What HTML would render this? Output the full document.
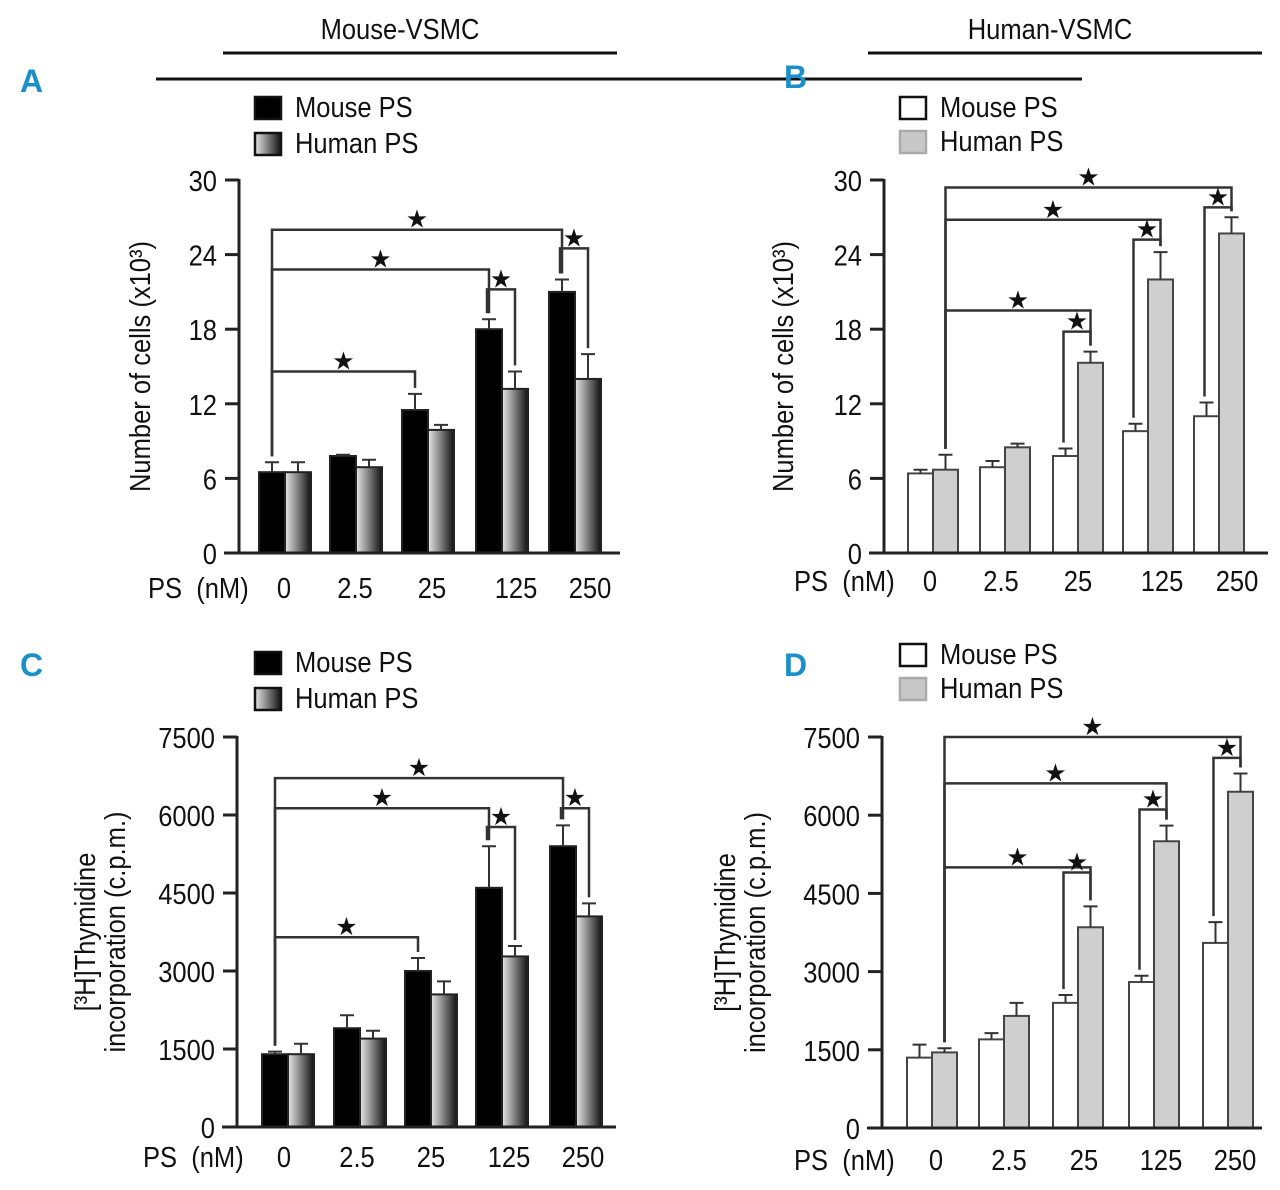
<!DOCTYPE html>
<html><head><meta charset="utf-8"><style>
html,body{margin:0;padding:0;background:#fff;}
svg text{font-family:"Liberation Sans Narrow","Liberation Sans",sans-serif;fill:#111;white-space:pre;}
.pl{font-family:"Liberation Sans",sans-serif;font-weight:bold;fill:#1a8fc9;}
</style></head><body>
<svg id="fig" width="1280" height="1185" viewBox="0 0 1280 1185" xmlns="http://www.w3.org/2000/svg">
<defs>
<linearGradient id="gr" x1="0" x2="1" y1="0" y2="0"><stop offset="0" stop-color="#e6e6e6"/><stop offset="0.45" stop-color="#888"/><stop offset="1" stop-color="#111"/></linearGradient>
</defs>
<text x="400" y="39" font-size="29" text-anchor="middle">Mouse-VSMC</text>
<line x1="223" y1="53" x2="617" y2="53" stroke="#111" stroke-width="3"/>
<line x1="156" y1="79" x2="1082" y2="79" stroke="#111" stroke-width="3"/>
<text x="1050" y="39" font-size="29" text-anchor="middle">Human-VSMC</text>
<line x1="868" y1="53" x2="1262" y2="53" stroke="#111" stroke-width="3"/>
<g id="root"></g>
</svg>
<script>
// ---- data ----
const categories = ["0","2.5","25","125","250"];
const aMouse = [6.5,7.8,11.5,18,21];
const aMouseErr = [0.8,0.1,1.3,0.8,1.0];
const aHuman = [6.5,6.9,9.9,13.2,14];
const aHumanErr = [0.8,0.6,0.4,1.4,2.0];
const bMouse = [6.4,6.9,7.8,9.8,11];
const bMouseErr = [0.3,0.5,0.6,0.6,1.1];
const bHuman = [6.7,8.5,15.3,22,25.7];
const bHumanErr = [1.2,0.3,0.9,2.2,1.3];
const cMouse = [1400,1900,3000,4600,5400];
const cMouseErr = [50,250,250,800,400];
const cHuman = [1400,1700,2550,3280,4050];
const cHumanErr = [200,150,250,200,250];
const dMouse = [1350,1700,2400,2800,3550];
const dMouseErr = [250,120,150,120,400];
const dHuman = [1450,2150,3850,5500,6450];
const dHumanErr = [80,250,400,300,350];
const countTicks = [0,6,12,18,24,30];
const thymTicks = [0,1500,3000,4500,6000,7500];
// brackets: [fromGroup, fromSeries, toGroup, toSeries, level]
const aBrackets = [[0,0,2,0,14.6],[0,0,3,0,22.8],[0,0,4,0,26.0],[3,0,3,1,21.2],[4,0,4,1,24.5]];
const bBrackets = [[0,1,2,1,19.5],[0,1,3,1,26.8],[0,1,4,1,29.4],[2,0,2,1,17.8],[3,0,3,1,25.2],[4,0,4,1,27.8]];
const cBrackets = [[0,0,2,0,3650],[0,0,3,0,6130],[0,0,4,0,6710],[3,0,3,1,5770],[4,0,4,1,6130]];
const dBrackets = [[0,1,2,1,5000],[0,1,3,1,6610],[0,1,4,1,7500],[2,0,2,1,4900],[3,0,3,1,6110],[4,0,4,1,7100]];

const NS="http://www.w3.org/2000/svg";
const root=document.getElementById('root');
function mk(tag,at,parent){const e=document.createElementNS(NS,tag);for(const k in at)e.setAttribute(k,at[k]);(parent||root).appendChild(e);return e;}

const panels=[
 {id:'a',letter:'A',lx:20,ly:92,ax:239,top:180,bot:553,xEnd:620,max:30,ticks:countTicks,m:aMouse,me:aMouseErr,h:aHuman,he:aHumanErr,br:aBrackets,
  starts:[259,330,402,476,549],bw:26,style:'dark',leg:[254,96],labX:[284,355,432,516,590],labY:598,psX:148,yt:['Number of cells (x10³)'],ytX:150},
 {id:'b',letter:'B',lx:784,ly:88,ax:884,top:180,bot:553,xEnd:1268,max:30,ticks:countTicks,m:bMouse,me:bMouseErr,h:bHuman,he:bHumanErr,br:bBrackets,
  starts:[908,980,1053,1123,1194],bw:25,style:'light',leg:[899,96],labX:[930,1001,1078,1162,1237],labY:591,psX:794,yt:['Number of cells (x10³)'],ytX:793},
 {id:'c',letter:'C',lx:20,ly:676,ax:237,top:737,bot:1127,xEnd:616,max:7500,ticks:thymTicks,m:cMouse,me:cMouseErr,h:cHuman,he:cHumanErr,br:cBrackets,
  starts:[262,334,405,476,550],bw:26,style:'dark',leg:[254,651],labX:[284,357,431,509,583],labY:1167,psX:143,yt:['[³H]Thymidine','incorporation (c.p.m.)'],ytX:95},
 {id:'d',letter:'D',lx:784,ly:676,ax:882,top:737,bot:1128,xEnd:1262,max:7500,ticks:thymTicks,m:dMouse,me:dMouseErr,h:dHuman,he:dHumanErr,br:dBrackets,
  starts:[907,979,1053,1129,1203],bw:25,style:'light',leg:[899,643],labX:[936,1009,1084,1161,1235],labY:1170,psX:794,yt:['[³H]Thymidine','incorporation (c.p.m.)'],ytX:735}
];

panels.forEach(p=>{
 const g=mk('g',{});
 
 
 const y=v=>p.bot-(v/p.max)*(p.bot-p.top);
 const bx=(gi,s)=>p.starts[gi]+s*p.bw;
 const L=mk('text',{x:p.lx,y:p.ly,'font-size':32,class:'pl'},g);L.textContent=p.letter;
 
 
 const names=['Mouse PS','Human PS'];
 const ly0=p.leg[1];
 [0,1].forEach(s=>{
  const yy=ly0+s*(p.style==='dark'?36:34);
  let fill=p.style==='dark'?(s?'url(#gr)':'#000'):(s?'#c8c8c8':'#fff');
  const r=mk('rect',{x:p.leg[0]+1,y:yy+1,width:26,height:22,fill:fill,stroke:p.style==='dark'?'#111':(s?'#aaa':'#111'),'stroke-width':2.5},g);
  
  
  const t=mk('text',{x:p.leg[0]+41,y:yy+21,'font-size':29},g);t.textContent=names[s];
  
  
 });
 [[p.m,p.me],[p.h,p.he]].forEach((ser,s)=>{
  ser[0].forEach((v,i)=>{
   let fill=p.style==='dark'?(s?'url(#gr)':'#000'):(s?'#cfcfcf':'#fff');
   const r=mk('rect',{x:bx(i,s),y:y(v),width:p.bw,height:p.bot-y(v),fill:fill,stroke:p.style==='dark'?'#222':'#444','stroke-width':2},g);
   
   
   const cx=bx(i,s)+p.bw/2, ye=y(v+ser[1][i]);
   const e=mk('path',{d:`M${cx} ${y(v)}V${ye}M${cx-7} ${ye}H${cx+7}`,stroke:'#333','stroke-width':2,fill:'none'},g);
   
   
  });
 });
 const sv=s=>s?[p.h,p.he]:[p.m,p.me];
 p.br.forEach(b=>{
  const x1=bx(b[0],b[1])+p.bw/2+(b[0]!==b[2]?0:-2), x2=bx(b[2],b[3])+p.bw/2;
  const a=sv(b[1]),c=sv(b[3]);
  const y1=y(a[0][b[0]]+a[1][b[0]])-6, y2=y(c[0][b[2]]+c[1][b[2]])-6, yl=y(b[4]);
  const pth=mk('path',{d:`M${x1} ${y1}V${yl}H${x2}V${y2}`,stroke:'#333','stroke-width':2.5,fill:'none'},g);
  
  
  const st=mk('text',{x:(x1+x2)/2,y:yl-2,'font-size':25,'text-anchor':'middle','font-family':'DejaVu Sans'},g);st.textContent='★';
  
  
 });
 const ya=mk('line',{x1:p.ax,y1:p.top-1,x2:p.ax,y2:p.bot,stroke:'#222','stroke-width':3},g);
 
 
 const xa=mk('line',{x1:p.ax-15,y1:p.bot,x2:p.xEnd,y2:p.bot,stroke:'#222','stroke-width':3},g);
 
 
 p.ticks.forEach(t=>{
  mk('line',{x1:p.ax-14,y1:y(t),x2:p.ax,y2:y(t),stroke:'#222','stroke-width':3},g);
  const tt=mk('text',{x:p.ax-22,y:y(t)+11,'font-size':29,'text-anchor':'end'},g);tt.textContent=t;
  
  
 });
 categories.forEach((c,i)=>{
  const tt=mk('text',{x:p.labX[i],y:p.labY,'font-size':29,'text-anchor':'middle'},g);tt.textContent=c;
  
  
 });
 const ps=mk('text',{x:p.psX,y:p.labY,'font-size':29},g);ps.textContent='PS  (nM)';
 
 
 const cy=(p.top+p.bot)/2;
 p.yt.forEach((line,k)=>{
  const xx=p.ytX+k*30;
  const t=mk('text',{x:xx,y:cy,'font-size':29,'text-anchor':'middle',transform:`rotate(-90 ${xx} ${cy})`},g);
  t.textContent=line;
  
  
 });
});
// condense text to mimic narrow font
document.querySelectorAll('svg text').forEach(t=>{
 if(t.classList.contains('pl')||t.textContent==='★')return;
 const w=t.getComputedTextLength();
 if(w>0){t.setAttribute('textLength',(w*0.88).toFixed(1));t.setAttribute('lengthAdjust','spacingAndGlyphs');}
});
</script>
</body></html>
